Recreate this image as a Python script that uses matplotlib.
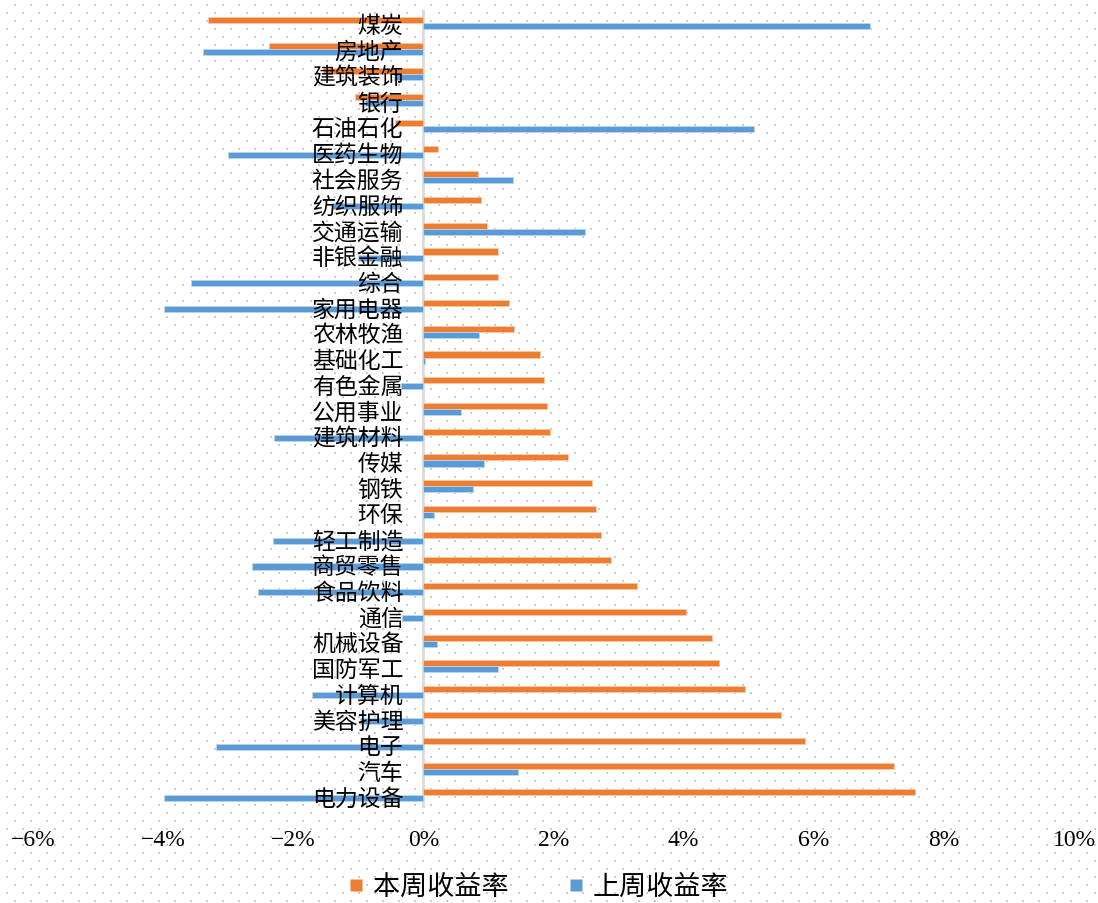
import numpy as np
import matplotlib
matplotlib.use("Agg")
import matplotlib.pyplot as plt
from matplotlib.lines import Line2D
from matplotlib.transforms import offset_copy
from matplotlib.ticker import FuncFormatter

plt.rcParams['font.family'] = ['Noto Sans CJK SC', 'DejaVu Sans']
plt.rcParams['axes.unicode_minus'] = True

# 申万一级行业周收益率 (%)
industries = ['煤炭', '房地产', '建筑装饰', '银行', '石油石化', '医药生物', '社会服务',
              '纺织服饰', '交通运输', '非银金融', '综合', '家用电器', '农林牧渔', '基础化工',
              '有色金属', '公用事业', '建筑材料', '传媒', '钢铁', '环保', '轻工制造',
              '商贸零售', '食品饮料', '通信', '机械设备', '国防军工', '计算机', '美容护理',
              '电子', '汽车', '电力设备']
this_week = [-3.31, -2.38, -1.55, -1.05, -0.44, 0.23, 0.84, 0.88, 0.98, 1.14, 1.15,
             1.32, 1.40, 1.79, 1.86, 1.90, 1.94, 2.23, 2.59, 2.66, 2.73, 2.89, 3.29,
             4.03, 4.43, 4.54, 4.95, 5.49, 5.86, 7.24, 7.55]
last_week = [6.86, -3.39, -0.45, -0.90, 5.08, -3.01, 1.38, -1.41, 2.49, -1.01, -3.57,
             -3.98, 0.86, 0.02, -0.35, 0.58, -2.29, 0.93, 0.76, 0.17, -2.31, -2.63,
             -2.54, -0.33, 0.21, 1.15, -1.71, -0.98, -3.19, 1.46, -3.98]
series_names = ['本周收益率', '上周收益率']
x_ticks = [-6, -4, -2, 0, 2, 4, 6, 8, 10]

ORANGE = '#ED7D31'
BLUE = '#5B9BD5'

W, H = 1098, 904
fig = plt.figure(figsize=(W / 100, H / 100), dpi=100)
fig.patch.set_facecolor('white')

# dotted background texture
bg = np.ones((H, W, 4))
dot = np.array([0.80, 0.80, 0.80, 1.0])
for r, y in enumerate(range(1, H, 8)):
    x0 = 14 if r % 2 == 0 else 6
    for x in range(x0, W, 16):
        bg[y:y + 2, x:x + 2] = dot
fig.figimage(bg[::-1], xo=0, yo=0, zorder=-10)

ax = fig.add_axes([33 / W, 1 - 809 / H, (1074 - 33) / W, (809 - 11) / H])
ax.set_facecolor('none')
ax.set_zorder(1)

n = len(industries)
pos = np.arange(n)
h = 0.235
ax.barh(pos - h / 2, this_week, height=h, color=ORANGE,
        edgecolor='#F8C9A8', linewidth=0.6, zorder=3)
ax.barh(pos + h / 2, last_week, height=h, color=BLUE,
        edgecolor='#BCD6EE', linewidth=0.6, zorder=3)

ax.set_xlim(-6, 10)
ax.set_ylim(n - 0.5, -0.5)
ax.axvline(0, color='#D9D9D9', linewidth=2, zorder=2)

for s in ax.spines.values():
    s.set_visible(False)
ax.set_yticks([])
ax.set_xticks(x_ticks)
ax.xaxis.set_major_formatter(FuncFormatter(lambda v, p: f'{v:.0f}%'.replace('-', '\u2212')))
ax.tick_params(axis='x', length=0, pad=15)
for lab in ax.get_xticklabels():
    lab.set_fontfamily('Liberation Serif')
    lab.set_fontsize(17)

# category labels sit just left of the zero line
lab_tr = offset_copy(ax.transData, fig=fig, x=-20, y=-3, units='dots')
for i, name in enumerate(industries):
    ax.text(0, i, name, transform=lab_tr, ha='right', va='center',
            fontsize=16.5, color='black', zorder=5)

handles = [Line2D([], [], linestyle='none', marker='s', markersize=8.5,
                  markerfacecolor=c, markeredgecolor='none') for c in (ORANGE, BLUE)]
leg = fig.legend(handles, series_names, loc='center', bbox_to_anchor=(0.49, 0.018),
                 ncol=2, frameon=False, fontsize=19.5, handlelength=0.6,
                 handletextpad=0.3, columnspacing=2.2)
leg.set_zorder(2)

fig.savefig('out.png', dpi=100)
